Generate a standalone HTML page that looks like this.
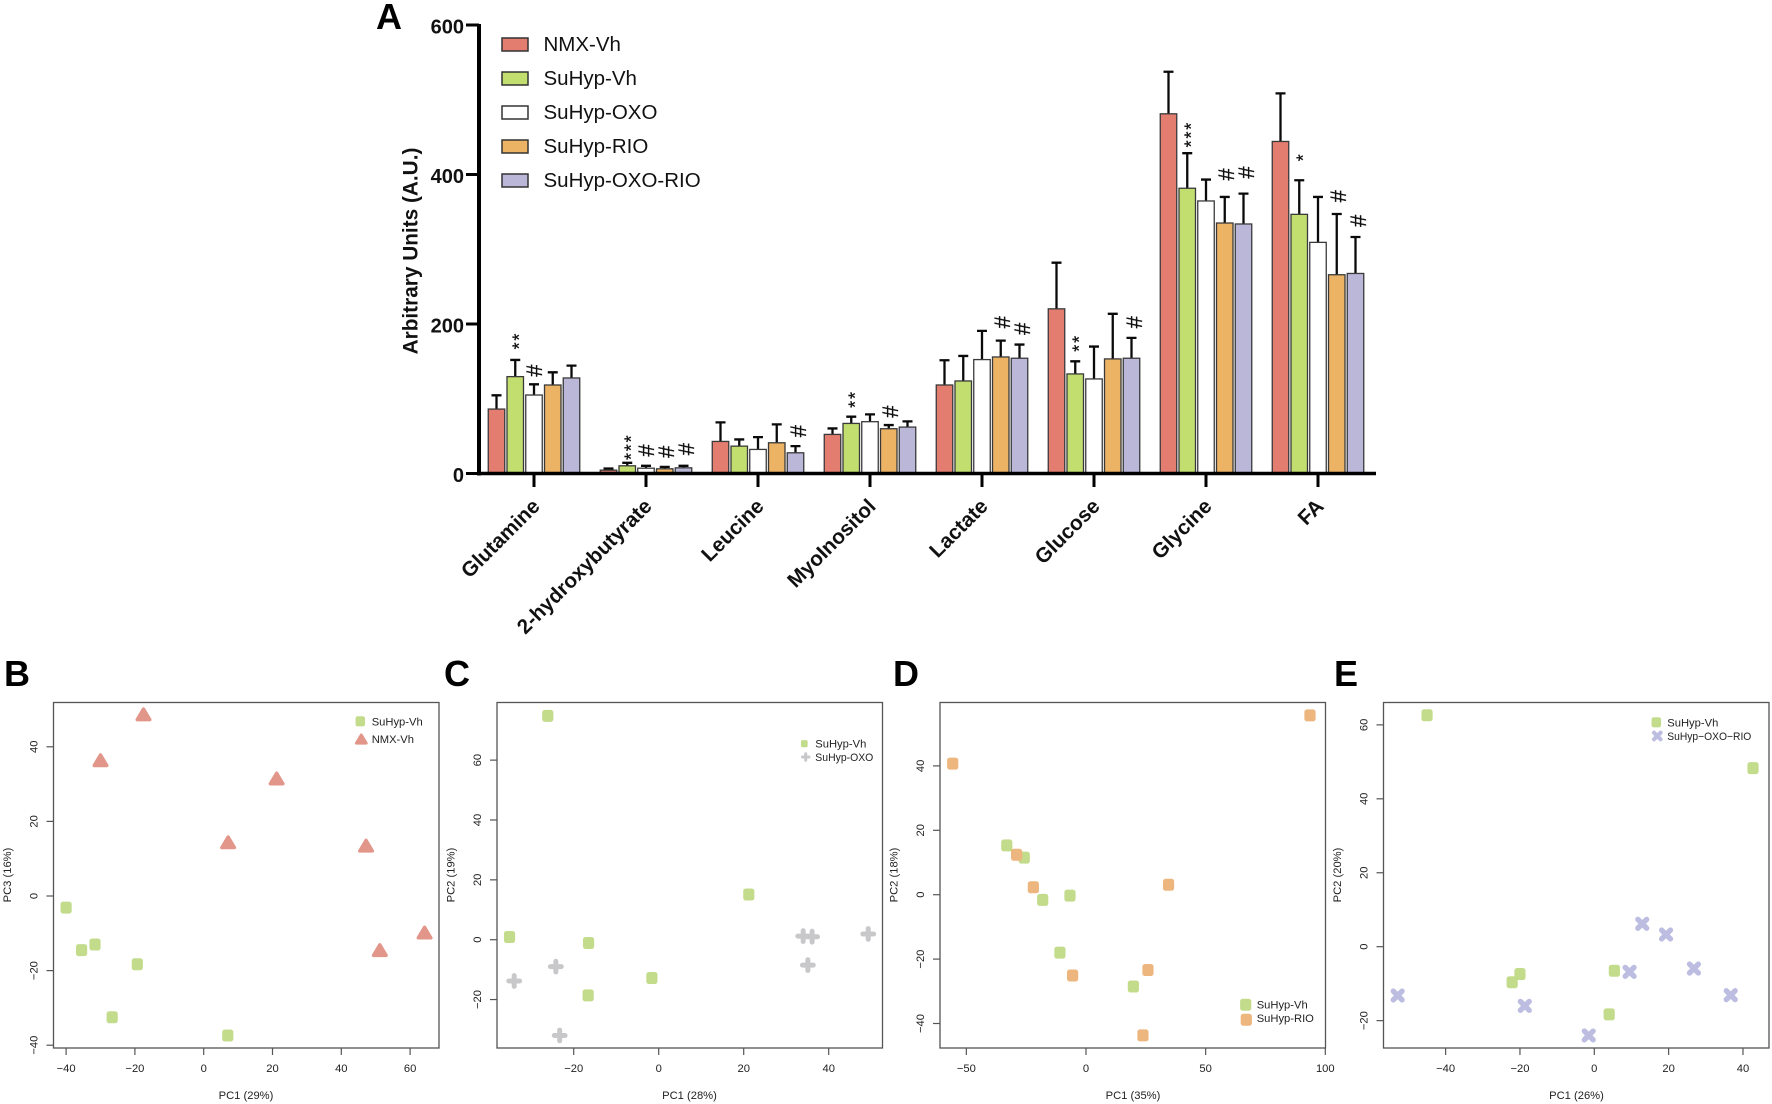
<!DOCTYPE html>
<html lang="en">
<head>
<meta charset="utf-8">
<title>Metabolite bar chart and PCA panels</title>
<style>
html,body{margin:0;padding:0;background:#fff;}
svg{display:block;}
text{font-family:"Liberation Sans",sans-serif;}
.letter{font-size:36px;font-weight:700;fill:#000;}
.leg-a{font-size:20.5px;fill:#111;}
.st{font-size:11.2px;fill:#222;}
.box{fill:none;stroke:#555;stroke-width:1.3;}
</style>
</head>
<body>
<svg id="figure" width="1772" height="1104" viewBox="0 0 1772 1104" xmlns="http://www.w3.org/2000/svg">
<rect x="0" y="0" width="1772" height="1104" fill="#fff"/>

<text class="letter" x="376" y="29">A</text>
<text class="letter" x="4" y="686">B</text>
<text class="letter" x="444" y="686">C</text>
<text class="letter" x="893" y="686">D</text>
<text class="letter" x="1334" y="686">E</text>

<g id="panel-a">
  <text transform="translate(417.5,251) rotate(-90)" text-anchor="middle" font-size="20.8" font-weight="700" fill="#111">Arbitrary Units (A.U.)</text>
  <g>
    <rect x="502" y="38" width="26" height="13" fill="#e27d6f" stroke="#333" stroke-width="1.5"/>
    <text class="leg-a" x="543.5" y="51">NMX-Vh</text>
    <rect x="502" y="72" width="26" height="13" fill="#c1de6f" stroke="#333" stroke-width="1.5"/>
    <text class="leg-a" x="543.5" y="85">SuHyp-Vh</text>
    <rect x="502" y="106" width="26" height="13" fill="#fff" stroke="#333" stroke-width="1.5"/>
    <text class="leg-a" x="543.5" y="119">SuHyp-OXO</text>
    <rect x="502" y="140" width="26" height="13" fill="#edb364" stroke="#333" stroke-width="1.5"/>
    <text class="leg-a" x="543.5" y="153">SuHyp-RIO</text>
    <rect x="502" y="174" width="26" height="13" fill="#bbb7d8" stroke="#333" stroke-width="1.5"/>
    <text class="leg-a" x="543.5" y="187">SuHyp-OXO-RIO</text>
  </g>
</g>

<g id="panel-b">
  <rect class="box" x="53.5" y="702.5" width="385.5" height="345.5"/>
  <text class="st" x="246" y="1099" text-anchor="middle">PC1 (29%)</text>
  <text class="st" transform="translate(11,875) rotate(-90)" text-anchor="middle">PC3 (16%)</text>
  <text class="st" x="371.7" y="725.3">SuHyp-Vh</text>
  <text class="st" x="371.7" y="743">NMX-Vh</text>
</g>
<g id="panel-c">
  <rect class="box" x="497" y="702.5" width="385.5" height="345.5"/>
  <text class="st" x="689.5" y="1099" text-anchor="middle">PC1 (28%)</text>
  <text class="st" transform="translate(454.5,875) rotate(-90)" text-anchor="middle">PC2 (19%)</text>
  <text class="st" x="815.3" y="747.7">SuHyp-Vh</text>
  <text class="st" x="815.3" y="761" textLength="58" lengthAdjust="spacingAndGlyphs">SuHyp-OXO</text>
</g>
<g id="panel-d">
  <rect class="box" x="940" y="702.5" width="385.5" height="345.5"/>
  <text class="st" x="1133" y="1099" text-anchor="middle">PC1 (35%)</text>
  <text class="st" transform="translate(897.5,875) rotate(-90)" text-anchor="middle">PC2 (18%)</text>
  <text class="st" x="1256.7" y="1008.7">SuHyp-Vh</text>
  <text class="st" x="1256.7" y="1022">SuHyp-RIO</text>
</g>
<g id="panel-e">
  <rect class="box" x="1383.5" y="702.5" width="385.5" height="345.5"/>
  <text class="st" x="1576.5" y="1099" text-anchor="middle">PC1 (26%)</text>
  <text class="st" transform="translate(1341,875) rotate(-90)" text-anchor="middle">PC2 (20%)</text>
  <text class="st" x="1667.3" y="726.3">SuHyp-Vh</text>
  <text class="st" x="1667.3" y="740" textLength="84" lengthAdjust="spacingAndGlyphs">SuHyp−OXO−RIO</text>
</g>
</svg>

<script>
/* ---------- Panel A data ---------- */
const categories = ["Glutamine","2-hydroxybutyrate","Leucine","MyoInositol","Lactate","Glucose","Glycine","FA"];
const seriesNames = ["nmx-vh","suhyp-vh","suhyp-oxo","suhyp-rio","suhyp-oxo-rio"];
const seriesColors = ["#e27d6f","#c1de6f","#ffffff","#edb364","#bbb7d8"];
const yTickValues = [0,200,400,600];

const meanNmxVh      = [86.2, 4.5, 42.9, 52.3, 118.4, 220.3, 481.2, 444.2];
const meanSuhypVh    = [129.6, 10.3, 36.6, 67, 123.8, 133.2, 381.6, 346.7];
const meanSuhypOxo   = [105, 7.1, 32.2, 69.3, 152.4, 126.5, 364.6, 309.2];
const meanSuhypRio   = [118.4, 6.3, 41.1, 59.9, 155.9, 153.3, 335.1, 265.9];
const meanSuhypOxoRio= [127.8, 7.6, 27.7, 62.1, 154.2, 154.2, 333.8, 267.6];

const upperNmxVh      = [104.6, 6.7, 68.4, 60.3, 151.5, 282, 537.5, 508.5];
const upperSuhypVh    = [151.9, 14.3, 45.6, 76, 157.3, 150.1, 428.5, 392.3];
const upperSuhypOxo   = [119.3, 10.3, 48.7, 79.1, 190.8, 169.8, 393.2, 370];
const upperSuhypRio   = [135.4, 8.9, 65.7, 64.8, 177.8, 213.6, 370, 347.2];
const upperSuhypOxoRio= [144.3, 10.3, 36.6, 69.7, 172.5, 181.4, 374.4, 316.4];

/* category index, series index, mark, height on value axis */
const significance = [
  [0,1,"**",177.8],[0,2,"#",137.6],
  [1,1,"***",35.7],[1,2,"#",30.8],[1,3,"#",29],[1,4,"#",32.6],
  [2,4,"#",56.7],
  [3,1,"**",99.6],[3,3,"#",82.7],
  [4,3,"#",202.4],[4,4,"#",193.5],
  [5,1,"**",174.7],[5,4,"#",202.4],
  [6,1,"***",454],[6,3,"#",400],[6,4,"#",402.6],
  [7,1,"*",423.6],[7,3,"#",370.9],[7,4,"#",338]
];

/* ---------- PCA data ---------- */
const bXTicks = [-40,-20,0,20,40,60];
const bYTicks = [-40,-20,0,20,40];
const bVhX  = [-40,-35.5,-31.6,-19.3,-26.6,7];
const bVhY  = [-3.1,-14.5,-13,-18.3,-32.5,-37.4];
const bNmxX = [-17.5,-30,21.2,7.1,47.2,64.2,51.2];
const bNmxY = [48.7,36.4,31.5,14.4,13.5,-9.8,-14.5];

const cXTicks = [-20,0,20,40];
const cYTicks = [-20,0,20,40,60];
const cVhX  = [-26.1,21.2,-35.1,-16.5,-1.6,-16.6];
const cVhY  = [74.8,15.1,0.9,-1.1,-12.8,-18.6];
const cOxoX = [-34,-24.2,-23.3,34,36.1,35.1,49.3];
const cOxoY = [-13.8,-9,-32,1.2,1,-8.5,1.9];

const dXTicks = [-50,0,50,100];
const dYTicks = [-40,-20,0,20,40];
const dVhX  = [-33.1,-25.8,-18.1,-6.7,-10.9,19.8];
const dVhY  = [15.3,11.5,-1.6,-0.3,-18,-28.5];
const dRioX = [93.6,-55.7,-29,-22,34.5,-5.6,25.9,23.8];
const dRioY = [55.7,40.7,12.4,2.3,3.1,-25.1,-23.4,-43.7];

const eXTicks = [-40,-20,0,20,40];
const eYTicks = [-20,0,20,40,60];
const eVhX  = [-45,42.7,-20,-22.1,5.4,4];
const eVhY  = [62.6,48.3,-7.4,-9.6,-6.5,-18.3];
const eMixX = [-52.9,-18.7,-1.5,9.5,12.9,19.3,26.8,36.7];
const eMixY = [-13.2,-16,-24,-6.8,6.2,3.3,-5.9,-13.1];

/* ---------- helpers ---------- */
const SVGNS = "http://www.w3.org/2000/svg";
function el(tag, attrs, parent){
  const n = document.createElementNS(SVGNS, tag);
  for(const k in attrs){ n.setAttribute(k, attrs[k]); }
  parent.appendChild(n);
  return n;
}

/* ---------- Panel A ---------- */
const panelA = document.getElementById("panel-a");
const yA = v => 473.5 - 0.7475 * v;
const catX = i => 534 + 112 * i;
const seriesOffset = s => (s - 2) * 18.75;
const BAR_W = 16.5;
const means = [meanNmxVh, meanSuhypVh, meanSuhypOxo, meanSuhypRio, meanSuhypOxoRio];
const uppers = [upperNmxVh, upperSuhypVh, upperSuhypOxo, upperSuhypRio, upperSuhypOxoRio];

categories.forEach((cat, i) => {
  means.forEach((vals, s) => {
    const cx = catX(i) + seriesOffset(s);
    const err = el("path", {d:`M${cx} ${yA(vals[i])}V${yA(uppers[s][i])}M${cx-5} ${yA(uppers[s][i])}H${cx+5}`, fill:"none", stroke:"#0a0a0a", "stroke-width":2.3}, panelA);
    
    
    const bar = el("rect", {x:cx-BAR_W/2, y:yA(vals[i]), width:BAR_W, height:yA(0)-yA(vals[i]), fill:seriesColors[s], stroke:"#3a3a3a", "stroke-width":1.3}, panelA);
    
    
  });
  const tick = el("line", {x1:catX(i), x2:catX(i), y1:yA(0), y2:487, stroke:"#000", "stroke-width":3}, panelA);
  
  
  const lab = el("text", {transform:`translate(${catX(i)+7},507.5) rotate(-45)`, "text-anchor":"end", "font-size":20.7, "font-weight":700, fill:"#111"}, panelA);
  lab.textContent = cat;
  
  
});

significance.forEach(item => {
  const cx = catX(item[0]) + seriesOffset(item[1]);
  const cy = yA(item[3]);
  let t;
  if(item[2] === "#"){
    const nudge = (item[1] - 1) * 1.3;
    t = el("text", {transform:`translate(${cx+nudge-9},${cy}) rotate(90)`, "text-anchor":"middle", "font-size":22, fill:"#111", stroke:"#111", "stroke-width":0.25}, panelA);
  } else {
    t = el("text", {transform:`translate(${cx+10.3},${cy}) rotate(-90)`, "text-anchor":"middle", "font-size":18, "letter-spacing":1.8, fill:"#111", stroke:"#111", "stroke-width":0.25}, panelA);
  }
  t.textContent = item[2];
  
  
});

const axisLines = el("path", {d:`M479 24V${yA(0)+2}`, fill:"none", stroke:"#000", "stroke-width":4}, panelA);


const xLine = el("line", {x1:477, x2:1376, y1:yA(0), y2:yA(0), stroke:"#000", "stroke-width":3.5}, panelA);


yTickValues.forEach(v => {
  const tick = el("line", {x1:466, x2:479, y1:yA(v), y2:yA(v), stroke:"#000", "stroke-width":3}, panelA);
  
  
  const lab = el("text", {x:464, y:yA(v)+8.5, "text-anchor":"end", "font-size":20, "font-weight":700, fill:"#111"}, panelA);
  lab.textContent = String(v);
  
  
});

/* ---------- PCA panels ---------- */
const GREEN = "#c3dc8c", RED = "#e2968a", GREY = "#c8c8cb", ORANGE = "#edb67f", LAV = "#bcbde0";
function marker(parent, kind, color, x, y, name, scale){
  const k = scale || 1;
  let m;
  if(kind === "square"){
    m = el("rect", {x:x-5.6*k, y:y-6*k, width:11.2*k, height:12*k, rx:2.6*k, fill:color}, parent);
  } else if(kind === "triangle"){
    m = el("path", {d:`M${x} ${y-5.3*k}L${x+6.3*k} ${y+5.3*k}H${x-6.3*k}Z`, fill:color, stroke:color, "stroke-width":3.4*k, "stroke-linejoin":"round"}, parent);
  } else if(kind === "plus"){
    m = el("path", {d:`M${x-5.4*k} ${y}H${x+5.4*k}M${x} ${y-5.4*k}V${y+5.4*k}`, fill:"none", stroke:color, "stroke-width":5*k, "stroke-linecap":"round"}, parent);
  } else {
    m = el("path", {d:`M${x-4.4*k} ${y-4.4*k}L${x+4.4*k} ${y+4.4*k}M${x+4.4*k} ${y-4.4*k}L${x-4.4*k} ${y+4.4*k}`, fill:"none", stroke:color, "stroke-width":5.4*k, "stroke-linecap":"round"}, parent);
  }
  
  
  return m;
}
function axes(parent, boxBottom, boxLeft, sx, sy, xTicks, yTicks){
  xTicks.forEach(v => {
    const t = el("line", {x1:sx(v), x2:sx(v), y1:boxBottom, y2:boxBottom+7, stroke:"#555", "stroke-width":1.2}, parent);
    
    
    const l = el("text", {x:sx(v), y:1072, "text-anchor":"middle", "font-size":11.2, fill:"#222"}, parent);
    l.textContent = String(v).replace("-", "\u2212");
    
    
  });
  yTicks.forEach(v => {
    const t = el("line", {x1:boxLeft-7, x2:boxLeft, y1:sy(v), y2:sy(v), stroke:"#555", "stroke-width":1.2}, parent);
    
    
    const l = el("text", {transform:`translate(${boxLeft-16},${sy(v)}) rotate(-90)`, "text-anchor":"middle", "font-size":11.2, fill:"#222"}, parent);
    l.textContent = String(v).replace("-", "\u2212");
    
    
  });
}
function points(parent, xs, ys, sx, sy, kind, color, name){
  xs.forEach((v, i) => marker(parent, kind, color, sx(v), sy(ys[i]), name));
}

/* B */
const pB = document.getElementById("panel-b");
const bx = v => 203.7 + 3.44 * v, by = v => 896 - 3.73 * v;
axes(pB, 1048, 53.5, bx, by, bXTicks, bYTicks);
points(pB, bVhX, bVhY, bx, by, "square", GREEN, "point-suhyp-vh");
points(pB, bNmxX, bNmxY, bx, by, "triangle", RED, "point-nmx-vh");
marker(pB, "square", GREEN, 360.3, 721.3, "legend-marker-suhyp-vh", 0.85);
marker(pB, "triangle", RED, 361.3, 739, "legend-marker-nmx-vh", 0.8);

/* C */
const pC = document.getElementById("panel-c");
const cx_ = v => 658.7 + 4.25 * v, cy_ = v => 939.7 - 2.993 * v;
axes(pC, 1048, 497, cx_, cy_, cXTicks, cYTicks);
points(pC, cVhX, cVhY, cx_, cy_, "square", GREEN, "point-suhyp-vh");
points(pC, cOxoX, cOxoY, cx_, cy_, "plus", GREY, "point-suhyp-oxo");
marker(pC, "square", GREEN, 804.3, 743.7, "legend-marker-suhyp-vh", 0.6);
marker(pC, "plus", GREY, 805.7, 757, "legend-marker-suhyp-oxo", 0.6);

/* D */
const pD = document.getElementById("panel-d");
const dx = v => 1086 + 2.393 * v, dy = v => 894.7 - 3.22 * v;
axes(pD, 1048, 940, dx, dy, dXTicks, dYTicks);
points(pD, dVhX, dVhY, dx, dy, "square", GREEN, "point-suhyp-vh");
points(pD, dRioX, dRioY, dx, dy, "square", ORANGE, "point-suhyp-rio");
marker(pD, "square", GREEN, 1245.7, 1004.7, "legend-marker-suhyp-vh");
marker(pD, "square", ORANGE, 1246.3, 1019.7, "legend-marker-suhyp-rio");

/* E */
const pE = document.getElementById("panel-e");
const ex = v => 1594.3 + 3.717 * v, ey = v => 946.7 - 3.697 * v;
axes(pE, 1048, 1383.5, ex, ey, eXTicks, eYTicks);
points(pE, eVhX, eVhY, ex, ey, "square", GREEN, "point-suhyp-vh");
points(pE, eMixX, eMixY, ex, ey, "cross", LAV, "point-suhyp-oxo-rio");
marker(pE, "square", GREEN, 1656.3, 722.3, "legend-marker-suhyp-vh", 0.85);
marker(pE, "cross", LAV, 1657.3, 736, "legend-marker-suhyp-oxo-rio", 0.75);
</script>
</body>
</html>
